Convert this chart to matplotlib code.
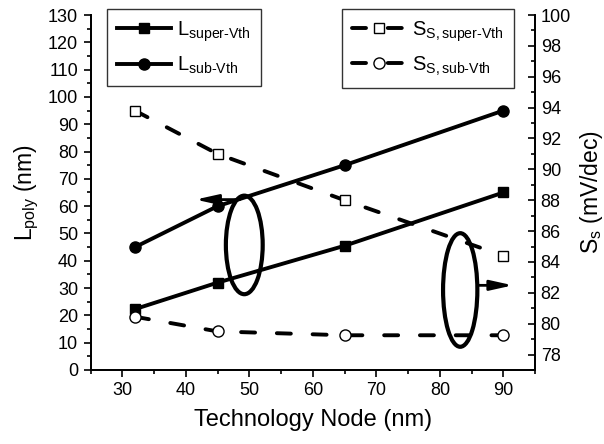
import matplotlib
matplotlib.use("Agg")
import matplotlib.pyplot as plt
from matplotlib.patches import Ellipse
from matplotlib.ticker import MultipleLocator

plt.rcParams['font.family'] = ['Liberation Sans', 'DejaVu Sans']
plt.rcParams['mathtext.fontset'] = 'custom'
plt.rcParams['mathtext.rm'] = 'Liberation Sans'
plt.rcParams['mathtext.it'] = 'Liberation Sans:italic'

# Data
nodes = [32, 45, 65, 90]
L_super = [22.3, 32, 45.5, 65]
L_sub = [45, 60, 75, 95]
Ss_super = [93.8, 91.0, 88.0, 84.4]
Ss_sub = [80.45, 79.5, 79.25, 79.25]

fig = plt.figure(figsize=(6.04, 4.44), dpi=100)
ax = fig.add_axes([0.150, 0.1667, 0.736, 0.7995])
ax2 = ax.twinx()

lw = 2.8
dash = (0, (3.6, 5.6))
l1, = ax.plot(nodes, L_super, '-', color='black', lw=lw, marker='s', ms=7.5,
              mfc='black', mec='black', label=r'L$_{\mathregular{super\text{-}Vth}}$', zorder=3)
l2, = ax.plot(nodes, L_sub, '-', color='black', lw=lw, marker='o', ms=8,
              mfc='black', mec='black', label=r'L$_{\mathregular{sub\text{-}Vth}}$', zorder=3)
l3, = ax2.plot(nodes, Ss_super, color='black', lw=lw, linestyle=dash, dash_capstyle='round',
               marker='s', ms=7.5, mfc='white', mec='black', mew=1.0,
               label=r'S$_{\mathregular{S,super\text{-}Vth}}$', zorder=3)
l4, = ax2.plot(nodes, Ss_sub, color='black', lw=lw, linestyle=dash, dash_capstyle='round',
               marker='o', ms=8, mfc='white', mec='black', mew=1.0,
               label=r'S$_{\mathregular{S,sub\text{-}Vth}}$', zorder=3)

ax.set_xlim(25, 95)
ax.set_ylim(0, 130)

ax.xaxis.set_major_locator(MultipleLocator(10))
ax.xaxis.set_minor_locator(MultipleLocator(5))
ax.yaxis.set_major_locator(MultipleLocator(10))
ax.yaxis.set_minor_locator(MultipleLocator(5))
ax2.set_yticks(list(range(78, 101, 2)))
ax2.yaxis.set_minor_locator(MultipleLocator(1))
ax2.set_ylim(77, 100)

for a in (ax, ax2):
    a.spines['top'].set_visible(False)
    for s in a.spines.values():
        s.set_linewidth(1.3)

ax.tick_params(axis='both', which='major', direction='out', length=5, width=1.2, labelsize=13, pad=4)
ax.tick_params(axis='both', which='minor', direction='out', length=3, width=1.2)
ax.tick_params(axis='y', which='both', right=False)
ax2.tick_params(axis='y', which='major', direction='in', length=5, width=1.2, labelsize=13, pad=4)
ax2.tick_params(axis='y', which='minor', direction='in', length=3, width=1.2)

ax.set_xlabel('Technology Node (nm)', fontsize=17, labelpad=7)
ax.set_ylabel(r'L$_{\mathregular{poly}}$ (nm)', fontsize=16.5, labelpad=5)
ax2.set_ylabel(r'S$_{\mathregular{s}}$ (mV/dec)', fontsize=16.5, labelpad=5)

# Ellipses and arrows
e1 = Ellipse((49.2, 45.8), 5.8, 36.1, fill=False, lw=3, edgecolor='black', zorder=5)
e2 = Ellipse((83.2, 29.3), 5.4, 41.6, fill=False, lw=3, edgecolor='black', zorder=5)
ax.add_patch(e1)
ax.add_patch(e2)
astyle = '-|>,head_length=0.9,head_width=0.2'
ax.annotate('', xy=(41.5, 62.4), xytext=(48.5, 62.4),
            arrowprops=dict(arrowstyle=astyle, lw=2.0, color='black', mutation_scale=15,
                            shrinkA=0, shrinkB=0), zorder=5)
ax.annotate('', xy=(91.5, 31.0), xytext=(86.1, 31.0),
            arrowprops=dict(arrowstyle=astyle, lw=2.0, color='black', mutation_scale=15,
                            shrinkA=0, shrinkB=0), zorder=5)

common = dict(loc='upper left', fontsize=14.5, frameon=True, fancybox=False, edgecolor='black',
              handlelength=2.7, handletextpad=0.3, borderpad=0.5, labelspacing=0.55,
              numpoints=1, borderaxespad=0)
leg1 = fig.legend(handles=[l1, l2], bbox_to_anchor=(107/604, 1-9/444), **common)
leg1.get_frame().set_linewidth(1.0)
leg2 = fig.legend(handles=[l3, l4], bbox_to_anchor=(342/604, 1-9/444), **common)
leg2.get_frame().set_linewidth(1.0)

fig.savefig('out.png', dpi=100)
